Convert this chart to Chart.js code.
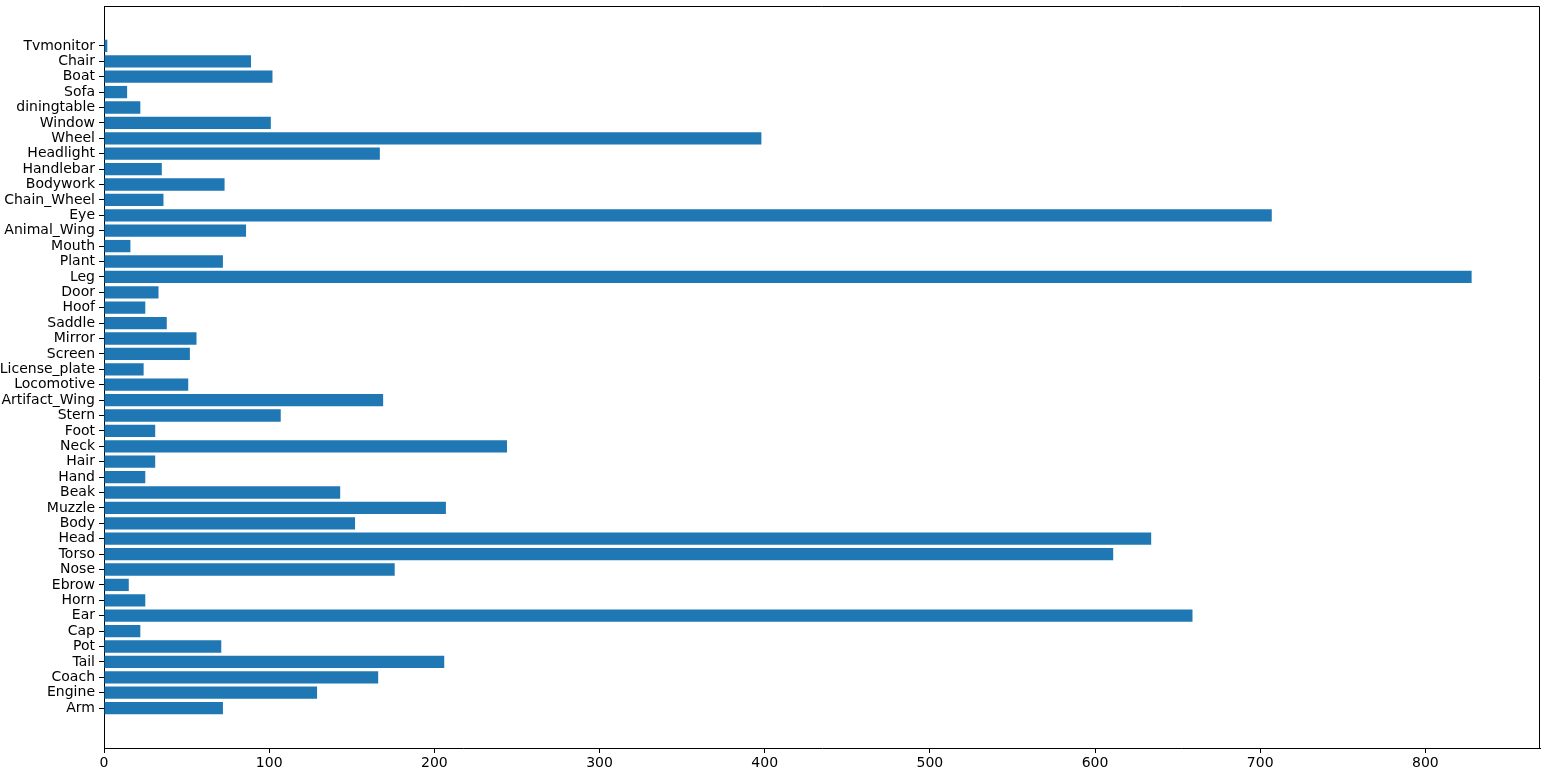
<!DOCTYPE html>
<html>
<head>
<meta charset="utf-8">
<script src="https://cdn.jsdelivr.net/npm/chart.js@4"></script>
<style>
  html, body { margin: 0; padding: 0; background: #fff; }
  #wrap { width: 1544px; height: 774px; }
</style>
</head>
<body>
<div id="wrap"><canvas id="grafico" width="1544" height="774"></canvas></div>
<script>
// bottom to top, as in the picture
const categories = [
  "Arm", "Engine", "Coach", "Tail", "Pot", "Cap", "Ear", "Horn", "Ebrow", "Nose",
  "Torso", "Head", "Body", "Muzzle", "Beak", "Hand", "Hair", "Neck", "Foot", "Stern",
  "Artifact_Wing", "Locomotive", "License_plate", "Screen", "Mirror", "Saddle", "Hoof", "Door", "Leg", "Plant",
  "Mouth", "Animal_Wing", "Eye", "Chain_Wheel", "Bodywork", "Handlebar", "Headlight", "Wheel", "Window", "diningtable",
  "Sofa", "Boat", "Chair", "Tvmonitor"
];
const counts = [
  72, 129, 166, 206, 71, 22, 659, 25, 15, 176,
  611, 634, 152, 207, 143, 25, 31, 244, 31, 107,
  169, 51, 24, 52, 56, 38, 25, 33, 828, 72,
  16, 86, 707, 36, 73, 35, 167, 398, 101, 22,
  14, 102, 89, 2
];
const xTicks = [0, 100, 200, 300, 400, 500, 600, 700, 800];

const xMax = Math.max(...counts) * 1.05;
const yPad = 0.4 + 0.05 * (categories.length - 1 + 0.8);

const frame = {
  id: "frame",
  afterDraw(chart) {
    const a = chart.chartArea;
    const c = chart.ctx;
    c.save();
    c.strokeStyle = "#000";
    c.lineWidth = 1;
    c.beginPath();
    c.moveTo(a.left, a.top + 0.5);
    c.lineTo(a.right - 0.5, a.top + 0.5);
    c.lineTo(a.right - 0.5, a.bottom);
    c.stroke();
    c.restore();
  }
};

const font = { family: "DejaVu Sans", size: 14 };

new Chart(document.getElementById("grafico"), {
  type: "bar",
  data: {
    datasets: [{
      data: counts.map((v, i) => ({ x: v, y: i })),
      backgroundColor: "#1f77b4",
      borderWidth: 0,
      categoryPercentage: 1,
      barPercentage: 0.8
    }]
  },
  options: {
    indexAxis: "y",
    responsive: false,
    animation: false,
    layout: { padding: { top: 6, right: 4, left: 0, bottom: 0 } },
    plugins: {
      legend: { display: false },
      tooltip: { enabled: false }
    },
    scales: {
      x: {
        type: "linear",
        min: 0,
        max: xMax,
        afterFit(s) { s.height = 26; s.paddingLeft = 0; s.paddingRight = 0; },
        afterBuildTicks(s) { s.ticks = xTicks.map(v => ({ value: v })); },
        grid: { drawOnChartArea: false, drawTicks: true, tickLength: 5, color: "#000" },
        border: { display: true, color: "#000", width: 1 },
        ticks: { color: "#000", font: font, padding: 2, maxRotation: 0 }
      },
      y: {
        type: "linear",
        offset: false,
        min: -yPad,
        max: categories.length - 1 + yPad,
        afterFit(s) { s.width = 104; s.paddingTop = 0; s.paddingBottom = 0; },
        afterBuildTicks(s) { s.ticks = categories.map((_, i) => ({ value: i })); },
        grid: { offset: false, drawOnChartArea: false, drawTicks: true, tickLength: 5, color: "#000" },
        border: { display: true, color: "#000", width: 1 },
        ticks: {
          color: "#000",
          font: font,
          padding: 4,
          autoSkip: false,
          callback: v => categories[v]
        }
      }
    }
  },
  plugins: [frame]
});
</script>
</body>
</html>
